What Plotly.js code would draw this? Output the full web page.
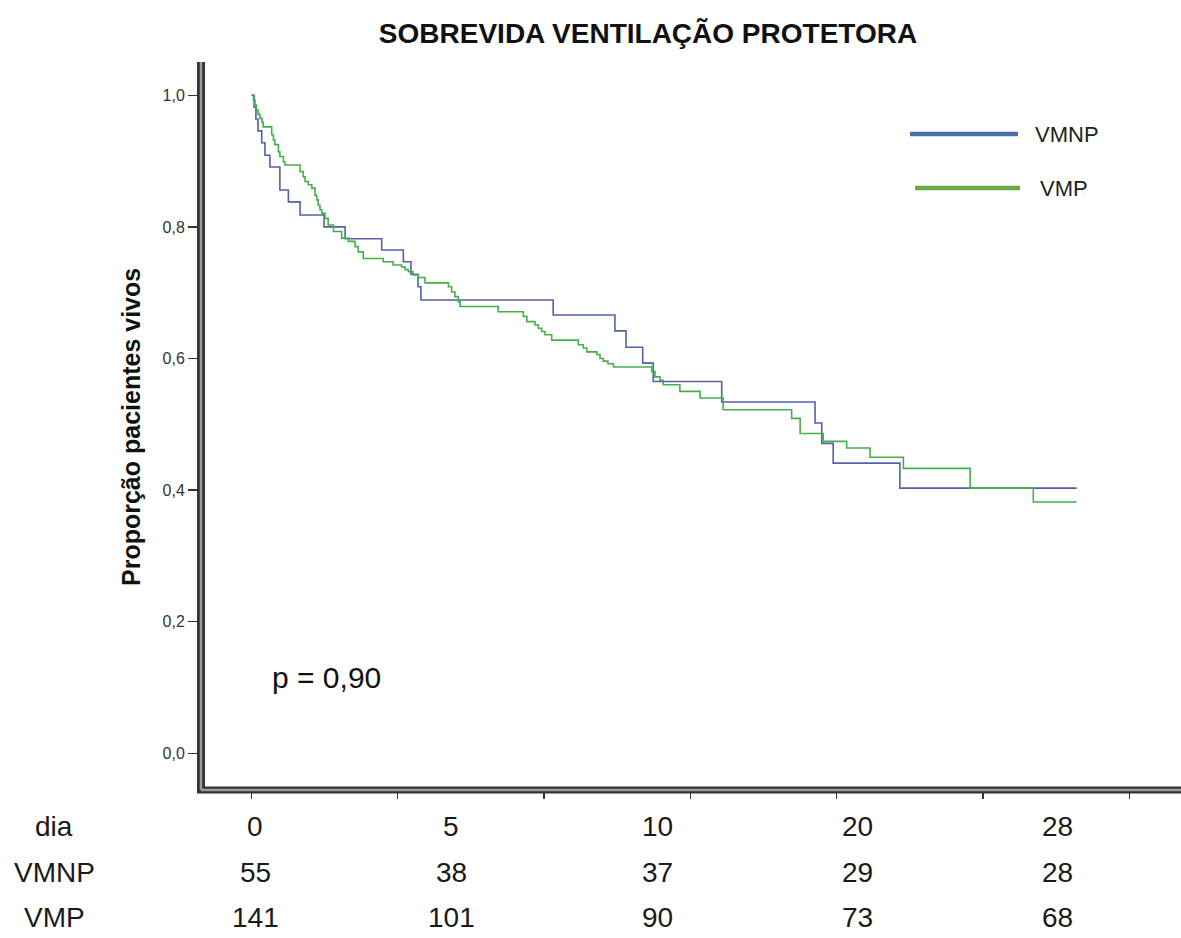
<!DOCTYPE html>
<html>
<head>
<meta charset="utf-8">
<script src="https://cdn.plot.ly/plotly-3.0.1.min.js"></script>
<style>html,body{margin:0;padding:0;background:#fff;}#chart{width:1181px;height:938px;}</style>
</head>
<body>
<div id="chart"></div>
<script>
// ---------- DATA ----------
const seriesNames = ['VMNP', 'VMP'];
// Kaplan-Meier steps: time (days) of each drop and survival after it
const timeVMNP = [0, 0.09, 0.15, 0.22, 0.35, 0.46, 0.63, 0.97, 1.26, 1.66, 2.48, 3.20, 4.45, 5.19, 5.45, 5.69, 5.79,
  10.31, 12.42, 12.80, 13.37, 13.73, 16.07, 19.26, 19.49, 19.88, 22.16, 28.20];
const survVMNP = [1.0, 0.982, 0.964, 0.946, 0.928, 0.909, 0.891, 0.856, 0.838, 0.818, 0.800, 0.782, 0.765, 0.747, 0.728, 0.709, 0.689,
  0.666, 0.642, 0.617, 0.593, 0.565, 0.534, 0.502, 0.471, 0.441, 0.403, 0.403];
const timeVMP = [0, 0.07, 0.12, 0.17, 0.22, 0.29, 0.36, 0.40, 0.69, 0.75, 0.80, 0.92, 0.97, 1.09, 1.14,
  1.66, 1.77, 1.83, 1.94, 2.06, 2.17, 2.23, 2.28, 2.34, 2.40, 2.51, 2.62, 2.80, 3.08, 3.31, 3.54, 3.65, 3.82,
  4.50, 4.84, 5.13, 5.25, 5.36, 5.52, 5.70, 5.93, 6.73, 6.84, 6.95, 7.07, 7.13, 8.43,
  9.29, 9.41, 9.69, 9.80, 9.92, 10.03, 10.26, 11.17, 11.34, 11.46, 11.80, 11.91, 12.02, 12.18, 12.37,
  13.68, 13.79, 13.96, 14.07, 14.64, 15.33, 16.12, 18.46, 18.75, 19.54, 20.34, 21.14, 22.28, 24.56, 26.72, 28.20];
const survVMP = [1.0, 0.993, 0.985, 0.978, 0.971, 0.965, 0.959, 0.952, 0.940, 0.932, 0.925, 0.914, 0.907, 0.899, 0.894,
  0.884, 0.876, 0.869, 0.864, 0.859, 0.848, 0.841, 0.833, 0.826, 0.821, 0.813, 0.803, 0.793, 0.783, 0.778, 0.770, 0.762, 0.752,
  0.747, 0.742, 0.739, 0.735, 0.732, 0.727, 0.723, 0.715, 0.709, 0.701, 0.694, 0.686, 0.679, 0.671,
  0.664, 0.656, 0.651, 0.646, 0.641, 0.636, 0.628, 0.621, 0.616, 0.610, 0.606, 0.600, 0.596, 0.592, 0.587,
  0.580, 0.572, 0.567, 0.560, 0.550, 0.540, 0.522, 0.509, 0.486, 0.474, 0.464, 0.450, 0.433, 0.403, 0.382, 0.382];

const xTickVals = [0, 5, 10, 15, 20, 25, 30];
const yTickVals = [0, 0.2, 0.4, 0.6, 0.8, 1.0];

const tableRowLabels = ['dia', 'VMNP', 'VMP'];
const tableDays = ['0', '5', '10', '20', '28'];
const atRiskVMNP = [55, 38, 37, 29, 28];
const atRiskVMP = [141, 101, 90, 73, 68];

const chartTitle = 'SOBREVIDA VENTILAÇÃO PROTETORA';
const yTitle = 'Proporção pacientes vivos';
const pValueText = 'p = 0,90';

// ---------- LAYOUT HELPERS ----------
const W = 1181, H = 938;
const M = {l: 205, r: 0, t: 62, b: H - 788};
const PW = W - M.l - M.r, PH = H - M.t - M.b;
const px = x => (x - M.l) / PW;          // pixel -> paper x
const py = y => (H - M.b - y) / PH;      // pixel -> paper y

const colors = {VMNP: '#5461a9', VMP: '#44b04c'};
const legendColors = {VMNP: '#4a70b2', VMP: '#6aa84a'};

const traces = [
  {x: timeVMNP, y: survVMNP, name: seriesNames[0], type: 'scatter', mode: 'lines',
   line: {shape: 'hv', color: colors.VMNP, width: 1.6}, showlegend: false},
  {x: timeVMP, y: survVMP, name: seriesNames[1], type: 'scatter', mode: 'lines',
   line: {shape: 'hv', color: colors.VMP, width: 1.6}, showlegend: false}
];

const annotations = [];
const font = 'Liberation Sans, Arial, sans-serif';
// Y axis title
annotations.push({xref: 'paper', yref: 'paper', x: px(131), y: py(427), text: '<b>' + yTitle + '</b>',
  textangle: -90, showarrow: false, font: {family: font, size: 25, color: '#111'}, xanchor: 'center', yanchor: 'middle'});
// p value
annotations.push({xref: 'paper', yref: 'paper', x: px(270), y: py(677), text: pValueText,
  showarrow: false, font: {family: font, size: 30, color: '#111'}, xanchor: 'left', yanchor: 'middle'});
// legend labels
const legY = [134, 188], legX0 = [910, 915], legX1 = [1018, 1020], legTextX = [1033, 1038];
seriesNames.forEach((n, i) => {
  annotations.push({xref: 'paper', yref: 'paper', x: px(legTextX[i]), y: py(legY[i]), text: n,
    showarrow: false, font: {family: font, size: 22, color: '#222'}, xanchor: 'left', yanchor: 'middle'});
});
// table
const rowY = [826, 872, 917];
const colX = [255, 451, 657, 857, 1057];
const tableRows = [tableDays, atRiskVMNP, atRiskVMP];
tableRowLabels.forEach((lab, r) => {
  annotations.push({xref: 'paper', yref: 'paper', x: px(54), y: py(rowY[r]), text: lab,
    showarrow: false, font: {family: font, size: 28, color: '#1a1a1a'}, xanchor: 'center', yanchor: 'middle'});
  tableRows[r].forEach((v, c) => {
    annotations.push({xref: 'paper', yref: 'paper', x: px(colX[c]), y: py(rowY[r]), text: String(v),
      showarrow: false, font: {family: font, size: 28, color: '#1a1a1a'}, xanchor: 'center', yanchor: 'middle'});
  });
});

const shapes = [];
// double axis lines
shapes.push({type: 'line', xref: 'paper', yref: 'paper', x0: px(201), x1: px(201), y0: 1.0, y1: py(793), line: {color: '#333', width: 8}});
shapes.push({type: 'line', xref: 'paper', yref: 'paper', x0: px(197), x1: px(1181), y0: py(790), y1: py(790), line: {color: '#333', width: 7}});
shapes.push({type: 'line', xref: 'paper', yref: 'paper', x0: px(201), x1: px(201), y0: 1.0, y1: py(790), line: {color: '#9a9a9a', width: 2.5}});
shapes.push({type: 'line', xref: 'paper', yref: 'paper', x0: px(201), x1: px(1181), y0: py(790), y1: py(790), line: {color: '#9a9a9a', width: 2.5}});
// legend lines
seriesNames.forEach((n, i) => {
  shapes.push({type: 'line', xref: 'paper', yref: 'paper', x0: px(legX0[i]), x1: px(legX1[i]), y0: py(legY[i]), y1: py(legY[i]),
    line: {color: legendColors[n], width: 4.5}});
});

const layout = {
  width: W, height: H,
  margin: M,
  paper_bgcolor: '#fff', plot_bgcolor: '#fff',
  separators: ',.',
  title: {text: chartTitle, xref: 'container', yref: 'container', x: 648 / W, y: 1 - 33 / H,
    xanchor: 'center', yanchor: 'middle', font: {family: font, size: 28, color: '#111', weight: 'bold'}},
  xaxis: {range: [(M.l - 251.5) / 29.26, (W - 251.5) / 29.26], tickvals: xTickVals, showticklabels: false,
    ticks: 'outside', ticklen: 10, tickwidth: 1.3, tickcolor: '#333', showgrid: false, zeroline: false, showline: false, fixedrange: true},
  yaxis: {range: [(753.3 - 788) / 658, (753.3 - 62) / 658], tickvals: yTickVals, tickformat: '.1f',
    ticks: 'outside', ticklen: 16, tickwidth: 1.3, tickcolor: '#333', showgrid: false, zeroline: false, showline: false,
    tickfont: {family: font, size: 16, color: '#333'}, fixedrange: true},
  showlegend: false,
  annotations: annotations,
  shapes: shapes
};

Plotly.newPlot('chart', traces, layout, {displayModeBar: false, staticPlot: true});
</script>
</body>
</html>
